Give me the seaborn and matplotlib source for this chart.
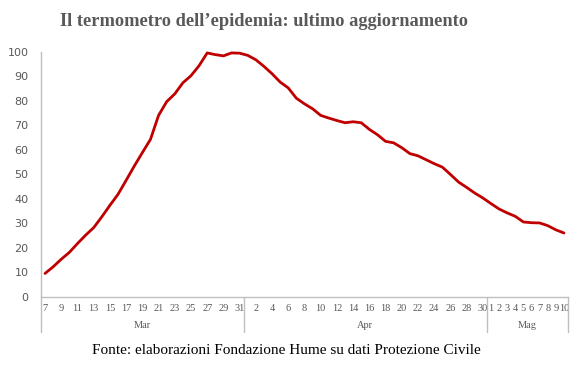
import numpy as np
import pandas as pd
import matplotlib
matplotlib.use("Agg")
import matplotlib.pyplot as plt
import matplotlib.transforms as mtransforms
import seaborn as sns

# dati: indice del termometro (giorni 7 mar - 10 mag)
mesi = ["Mar", "Apr", "Mag"]
giorni_mar = list(range(7, 32))
giorni_apr = list(range(1, 31))
giorni_mag = list(range(1, 11))
valori = [9.5, 12.2, 15.3, 18.1, 21.7, 25.1, 28.2, 32.6, 37.3, 41.8,
          47.5, 53.3, 58.8, 64.2, 74.0, 79.6, 82.8, 87.3, 90.2, 94.3,
          99.5, 98.8, 98.3, 99.5, 99.4,
          98.5, 96.7, 94.0, 91.0, 87.6, 85.2, 81.0, 78.7, 76.7, 74.0,
          72.9, 71.9, 71.0, 71.4, 71.0, 68.3, 66.1, 63.4, 62.8, 60.8,
          58.4, 57.5, 55.9, 54.3, 52.9, 49.9, 46.8, 44.6, 42.3, 40.3,
          38.0, 35.8, 34.2, 32.8, 30.5, 30.2, 30.1, 29.0, 27.3, 26.0]

giorni = giorni_mar + giorni_apr + giorni_mag
mese_di = ["Mar"] * len(giorni_mar) + ["Apr"] * len(giorni_apr) + ["Mag"] * len(giorni_mag)
df = pd.DataFrame({"pos": np.arange(len(giorni)), "giorno": giorni,
                   "mese": mese_di, "valore": valori})

sns.set_style("white")
plt.rcParams["font.family"] = ["DejaVu Sans"]

fig = plt.figure(figsize=(5.77, 3.71), dpi=100)
ax = fig.add_axes([41 / 577, 1 - 296.7 / 371, (568 - 41) / 577, (296.7 - 51.7) / 371])

sns.lineplot(data=df, x="pos", y="valore", ax=ax, color="#C00000",
             linewidth=2.0, clip_on=False)

ax.set_xlim(-0.5, len(giorni) - 0.5)
ax.set_ylim(0, 100)
ax.set_yticks(range(0, 101, 10))
ax.tick_params(axis="y", labelsize=8, labelcolor="#595959", length=0, pad=9)
ax.set_xlabel("")
ax.set_ylabel("")

# etichette dei giorni (come nel grafico di Excel)
mostra = [i for i in range(len(giorni))
          if (mese_di[i] == "Mar" and giorni[i] % 2 == 1)
          or (mese_di[i] == "Apr" and giorni[i] % 2 == 0)
          or mese_di[i] == "Mag"]
ax.set_xticks(mostra)
ax.set_xticklabels([str(giorni[i]) for i in mostra], family="Liberation Serif",
                   fontsize=7.5, color="#595959")
ax.tick_params(axis="x", length=0, pad=5)

for s in ["top", "right"]:
    ax.spines[s].set_visible(False)
for s in ["left", "bottom"]:
    ax.spines[s].set_color("#BFBFBF")
    ax.spines[s].set_linewidth(1.0)

# separatori e nomi dei mesi
trans = mtransforms.blended_transform_factory(ax.transData, ax.transAxes)
confini = [-0.5]
for m in mesi:
    confini.append(confini[-1] + mese_di.count(m))
for c in confini:
    ax.plot([c, c], [0, -0.145], transform=trans, color="#BFBFBF",
            linewidth=1.0, clip_on=False)
for m, a, b in zip(mesi, confini[:-1], confini[1:]):
    ax.text((a + b) / 2, -0.118, m, transform=trans, ha="center", va="center",
            family="Liberation Serif", fontsize=7.5, color="#595959")

fig.text(263.5 / 577, 1 - 21 / 371, "Il termometro dell\u2019epidemia: ultimo aggiornamento",
         ha="center", va="center", family="Liberation Serif", fontweight="bold",
         fontsize=13.2, color="#595959")
fig.text(286.5 / 577, 1 - 351 / 371,
         "Fonte: elaborazioni Fondazione Hume su dati Protezione Civile",
         ha="center", va="center", family="Liberation Serif", fontsize=11,
         color="black")

fig.savefig("out.png", dpi=100)
